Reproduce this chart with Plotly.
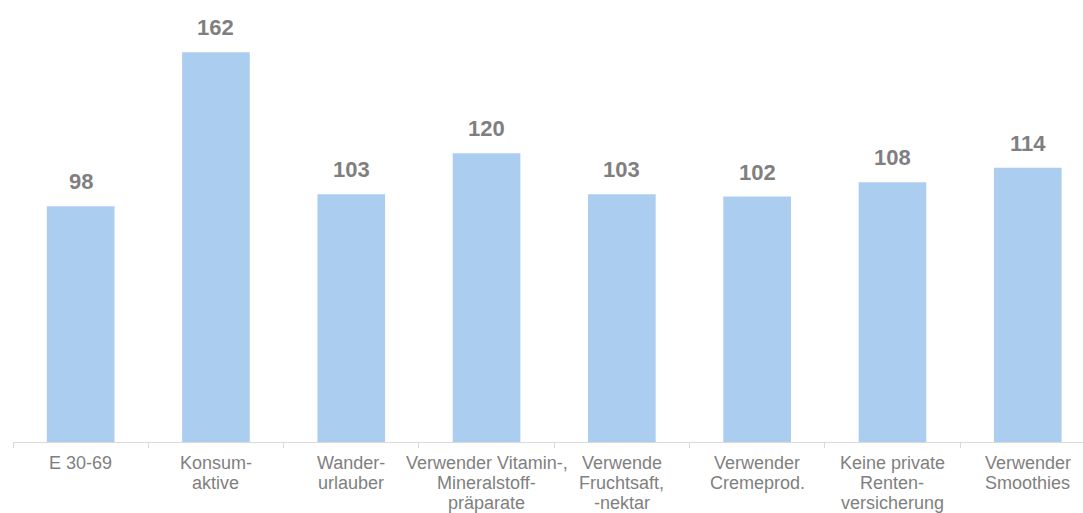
import plotly.graph_objects as go

categories = ["E 30-69", "Konsum-\naktive", "Wander-\nurlauber",
              "Verwender Vitamin-,\nMineralstoff-\npräparate",
              "Verwende\nFruchtsaft,\n-nektar", "Verwender\nCremeprod.",
              "Keine private\nRenten-\nversicherung", "Verwender\nSmoothies"]
values = [98, 162, 103, 120, 103, 102, 108, 114]

GREY = "#7f7f7f"
FONT = "Liberation Sans, Arial"

fig = go.Figure()
fig.add_trace(go.Bar(x=categories, y=values, marker_color="#abcdf0",
                     marker_line_width=0, width=0.5, hoverinfo="skip"))

for cat, v in zip(categories, values):
    fig.add_annotation(x=cat, y=v, text=f"<b>{v}</b>", showarrow=False,
                       yanchor="bottom", yshift=10,
                       font=dict(family=FONT, size=22, color=GREY))
    for k, line in enumerate(cat.split("\n")):
        fig.add_annotation(x=cat, y=0, yref="paper", text=line, showarrow=False,
                           yanchor="middle", yshift=-(20.5 + 20.3 * k),
                           font=dict(family=FONT, size=18, color=GREY))

fig.update_layout(
    width=1083, height=513,
    margin=dict(l=13, r=0, t=0, b=71),
    plot_bgcolor="white", paper_bgcolor="white",
    showlegend=False,
    font=dict(family=FONT, size=18, color=GREY),
)
fig.update_xaxes(type="category", range=[-0.5, -0.5 + (1083 - 13) / 135.3],
                 showticklabels=False, tickson="boundaries",
                 showline=True, linecolor="#d9d9d9", linewidth=1,
                 ticks="outside", ticklen=5, tickcolor="#d9d9d9",
                 showgrid=False, zeroline=False)
fig.update_yaxes(range=[0, 183.7], visible=False, showgrid=False, zeroline=False)

fig.write_html("out.html", config={"displayModeBar": False},
               post_script="document.body.style.margin='0';")
